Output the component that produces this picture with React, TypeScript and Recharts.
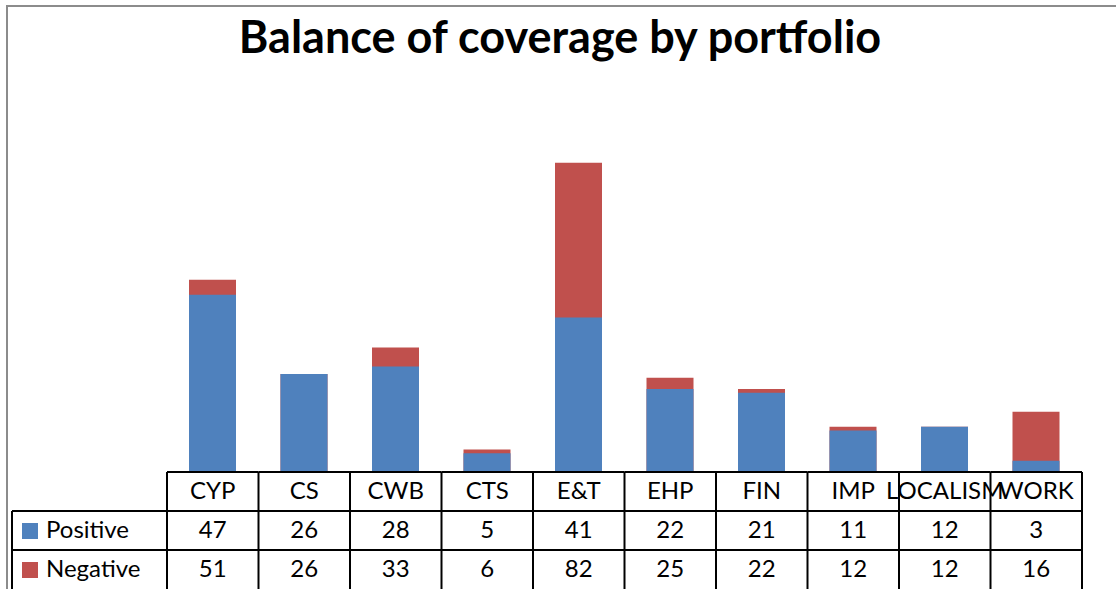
import React from "react";
import { Bar, BarChart, XAxis, YAxis } from "recharts";

const categories = ["CYP", "CS", "CWB", "CTS", "E&T", "EHP", "FIN", "IMP", "LOCALISM", "WORK"];
const positive = [47, 26, 28, 5, 41, 22, 21, 11, 12, 3];
const negative = [51, 26, 33, 6, 82, 25, 22, 12, 12, 16];
const seriesNames = ["Positive", "Negative"];

const BLUE = "#4F81BD";
const RED = "#C0504D";
const FONT = "Lato, 'Open Sans', sans-serif";

const W = 1116;
const H = 589;
const PLOT_LEFT = 167;
const PLOT_RIGHT = 1082;
const AXIS_Y = 472;
const ROW_H = 39;
const TABLE_LEFT = 12;
const cellW = (PLOT_RIGHT - PLOT_LEFT) / categories.length;

const data = categories.map((name, i) => ({
  name,
  positive: positive[i],
  negative: negative[i],
}));

// draws one column of the data table under the axis
const TableTick = (props: any) => {
  const { x, payload, index } = props;
  const i = typeof index === "number" ? index : categories.indexOf(payload.value);
  const top = AXIS_Y;
  const left = x - cellW / 2;
  const right = x + cellW / 2;
  const line = { stroke: "#000", strokeWidth: 2 };
  const txt = { fontFamily: FONT, fontSize: 24, fill: "#000" };
  return (
    <g>
      <line x1={left} x2={right} y1={top} y2={top} {...line} />
      <line x1={left} x2={left} y1={top} y2={H} {...line} />
      {i === categories.length - 1 && <line x1={right} x2={right} y1={top} y2={H} {...line} />}
      <line x1={left} x2={right} y1={top + ROW_H} y2={top + ROW_H} {...line} />
      <line x1={left} x2={right} y1={top + ROW_H * 2} y2={top + ROW_H * 2} {...line} />
      <text x={x} y={top + 27} textAnchor="middle" {...txt}>
        {payload.value}
      </text>
      <text x={x} y={top + ROW_H + 27} textAnchor="middle" {...txt}>
        {positive[i]}
      </text>
      <text x={x} y={top + ROW_H * 2 + 27} textAnchor="middle" {...txt}>
        {negative[i]}
      </text>
      {i === 0 && (
        <g>
          <line x1={TABLE_LEFT} x2={left} y1={top + ROW_H} y2={top + ROW_H} {...line} />
          <line x1={TABLE_LEFT} x2={left} y1={top + ROW_H * 2} y2={top + ROW_H * 2} {...line} />
          <line x1={TABLE_LEFT} x2={TABLE_LEFT} y1={top + ROW_H} y2={H} {...line} />
          {seriesNames.map((s, k) => (
            <g key={s}>
              <rect x={22} y={top + ROW_H * (k + 1) + 12} width={16} height={16} fill={k === 0 ? BLUE : RED} />
              <text x={46} y={top + ROW_H * (k + 1) + 27} {...txt}>
                {s}
              </text>
            </g>
          ))}
        </g>
      )}
    </g>
  );
};

export default function App() {
  return (
    <div style={{ position: "absolute", left: 0, top: 0, width: W, height: H, overflow: "hidden", background: "#fff" }}>
      <div
        style={{
          position: "absolute",
          left: 6,
          top: 5,
          width: W + 50,
          height: H + 50,
          border: "2px solid #8c8c8c",
        }}
      />
      <div
        style={{
          position: "absolute",
          left: 0,
          top: 6,
          width: 1120,
          textAlign: "center",
          fontFamily: FONT,
          fontWeight: "bold",
          fontSize: 45,
          lineHeight: "60px",
        }}
      >
        Balance of coverage by portfolio
      </div>
      <BarChart
        width={W}
        height={H}
        data={data}
        margin={{ top: 95, right: W - PLOT_RIGHT, left: PLOT_LEFT, bottom: 0 }}
        style={{ position: "absolute", left: 0, top: 0 }}
      >
        <XAxis xAxisId="back" dataKey="name" hide height={0} />
        <XAxis
          xAxisId="front"
          dataKey="name"
          axisLine={false}
          tickLine={false}
          tickSize={0}
          tickMargin={0}
          interval={0}
          tick={<TableTick />}
          height={H - AXIS_Y}
        />
        <YAxis hide domain={[0, 100]} />
        <Bar xAxisId="back" dataKey="negative" fill={RED} barSize={47} isAnimationActive={false} />
        <Bar xAxisId="front" dataKey="positive" fill={BLUE} barSize={47} isAnimationActive={false} />
      </BarChart>
    </div>
  );
}
